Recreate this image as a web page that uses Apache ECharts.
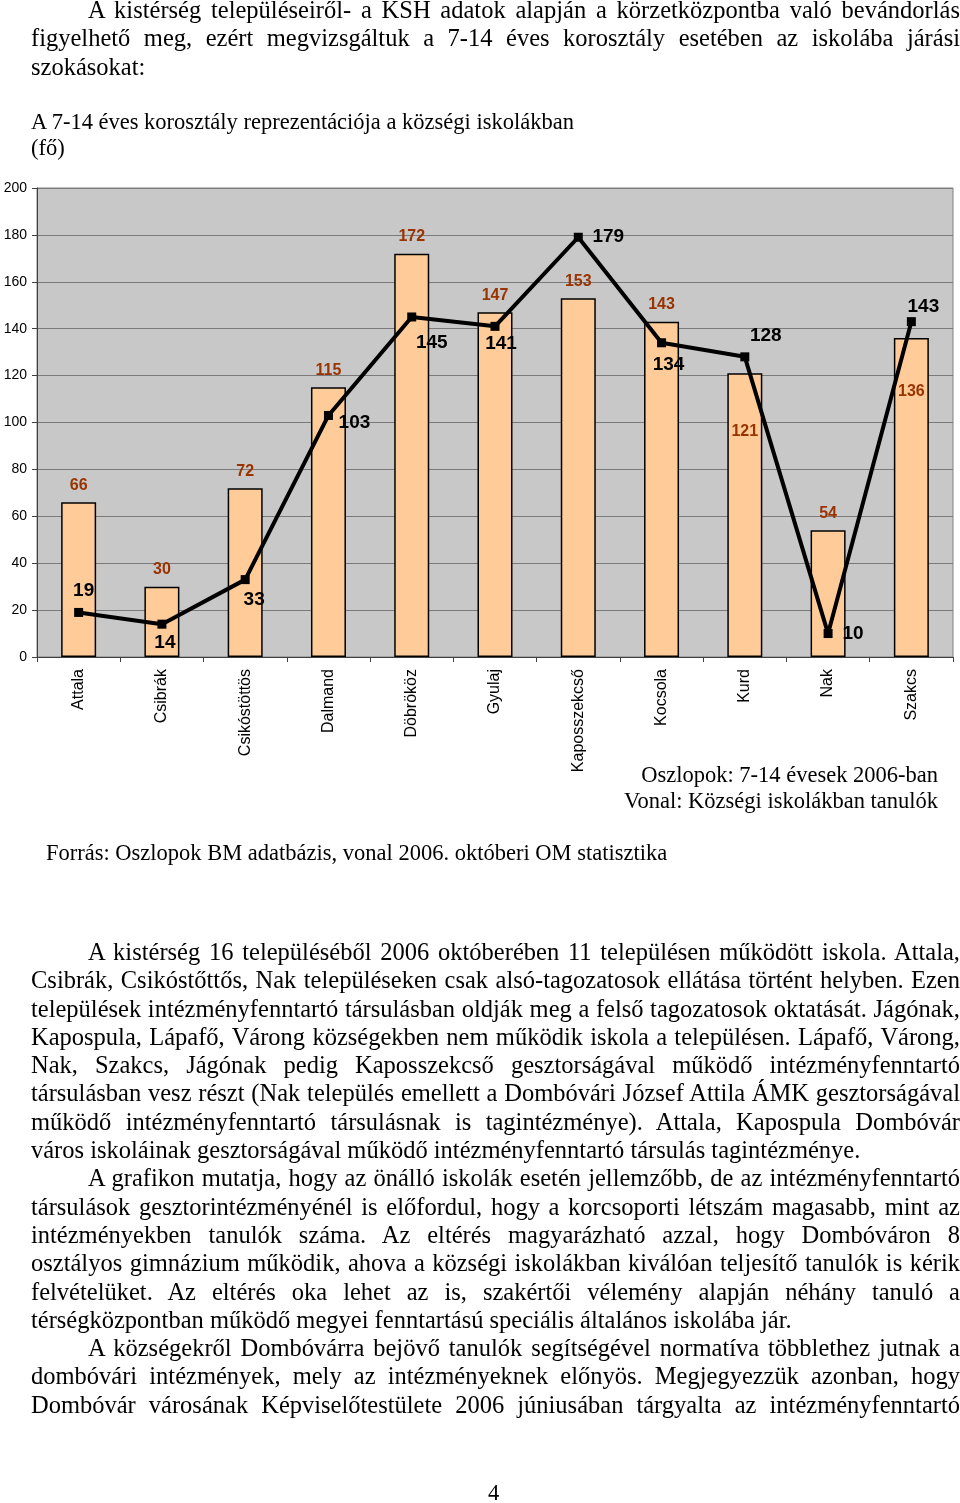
<!DOCTYPE html>
<html>
<head>
<meta charset="utf-8">
<script src="https://cdn.jsdelivr.net/npm/echarts@6/dist/echarts.min.js"></script>
<style>
  html, body { margin: 0; padding: 0; background: #fff; }
  body { width: 960px; height: 1503px; position: relative; overflow: hidden; }
  #chart { position: absolute; left: 0; top: 0; width: 960px; height: 1503px; }
  .txt { position: absolute; font-family: "Liberation Serif", "Times New Roman", serif; color: #000; white-space: nowrap; }
  .block { font-size: 24.5px; line-height: 28.3px; left: 31px; width: 929px; }
  .block div { text-align: justify; text-align-last: justify; }
  .block div.last { text-align: left; text-align-last: left; }
  .block div.ind { padding-left: 57px; }
  .small { font-size: 22.5px; line-height: 26px; }
</style>
</head>
<body>
<div id="chart"></div>

<div class="txt block" style="top:-4px;">
  <div class="ind">A kistérség településeiről- a KSH adatok alapján a körzetközpontba való bevándorlás</div>
  <div>figyelhető meg, ezért megvizsgáltuk a 7-14 éves korosztály esetében az iskolába járási</div>
  <div class="last">szokásokat:</div>
</div>

<div class="txt small" style="left:31px; top:109px;">A 7-14 éves korosztály reprezentációja a községi iskolákban<br>(fő)</div>

<div class="txt small" style="right:22px; top:762px; text-align:right;">Oszlopok: 7-14 évesek 2006-ban<br>Vonal: Községi iskolákban tanulók</div>

<div class="txt small" style="left:46px; top:840px;">Forrás: Oszlopok BM adatbázis, vonal 2006. októberi OM statisztika</div>

<div class="txt block" style="top:938px;">
  <div class="ind">A kistérség 16 településéből 2006 októberében 11 településen működött iskola. Attala,</div>
  <div>Csibrák, Csikóstőttős, Nak településeken csak alsó-tagozatosok ellátása történt helyben. Ezen</div>
  <div>települések intézményfenntartó társulásban oldják meg a felső tagozatosok oktatását. Jágónak,</div>
  <div>Kapospula, Lápafő, Várong községekben nem működik iskola a településen. Lápafő, Várong,</div>
  <div>Nak, Szakcs, Jágónak pedig Kaposszekcső gesztorságával működő intézményfenntartó</div>
  <div>társulásban vesz részt (Nak település emellett a Dombóvári József Attila ÁMK gesztorságával</div>
  <div>működő intézményfenntartó társulásnak is tagintézménye). Attala, Kapospula Dombóvár</div>
  <div class="last">város iskoláinak gesztorságával működő intézményfenntartó társulás tagintézménye.</div>
  <div class="ind">A grafikon mutatja, hogy az önálló iskolák esetén jellemzőbb, de az intézményfenntartó</div>
  <div>társulások gesztorintézményénél is előfordul, hogy a korcsoporti létszám magasabb, mint az</div>
  <div>intézményekben tanulók száma. Az eltérés magyarázható azzal, hogy Dombóváron 8</div>
  <div>osztályos gimnázium működik, ahova a községi iskolákban kiválóan teljesítő tanulók is kérik</div>
  <div>felvételüket. Az eltérés oka lehet az is, szakértői vélemény alapján néhány tanuló a</div>
  <div class="last">térségközpontban működő megyei fenntartású speciális általános iskolába jár.</div>
  <div class="ind">A községekről Dombóvárra bejövő tanulók segítségével normatíva többlethez jutnak a</div>
  <div>dombóvári intézmények, mely az intézményeknek előnyös. Megjegyezzük azonban, hogy</div>
  <div>Dombóvár városának Képviselőtestülete 2006 júniusában tárgyalta az intézményfenntartó</div>
</div>

<div class="txt small" style="left:488px; top:1480px;">4</div>

<script>
// ---- data ----
const categories = ['Attala', 'Csibrák', 'Csikóstöttös', 'Dalmand', 'Döbrököz', 'Gyulaj', 'Kaposszekcső', 'Kocsola', 'Kurd', 'Nak', 'Szakcs'];
const barValues = [66, 30, 72, 115, 172, 147, 153, 143, 121, 54, 136];   // Oszlopok: 7-14 évesek 2006-ban
const lineValues = [19, 14, 33, 103, 145, 141, 179, 134, 128, 10, 143];  // Vonal: Községi iskolákban tanulók
const yTicks = { min: 0, max: 200, interval: 20 };

// ---- label placement (styling only) ----
const lineLabelOffsets = [[5,-22],[3,19],[9,20],[26,7],[20,26],[6,17],[30,0],[7,22],[21,-21],[25,0],[12,-15]];
const barLabelInsideOffset = { 8: 50, 10: 46 };

const chart = echarts.init(document.getElementById('chart'), null, { renderer: 'canvas' });

const barData = barValues.map((v, i) => {
  if (barLabelInsideOffset[i] !== undefined) {
    return { value: v, label: { position: 'insideTop', distance: 0, offset: [0, barLabelInsideOffset[i]] } };
  }
  return v;
});
const lineData = lineValues.map((v, i) => ({ value: v, label: { offset: lineLabelOffsets[i] } }));

chart.setOption({
  animation: false,
  backgroundColor: 'transparent',
  grid: {
    left: 37, right: 7, top: 188, height: 469,
    show: true, backgroundColor: '#c8c8c8', borderColor: '#808080', borderWidth: 1
  },
  xAxis: {
    type: 'category',
    data: categories,
    axisLine: { show: true, lineStyle: { color: '#404040', width: 1 } },
    axisTick: { show: true, length: 5, lineStyle: { color: '#404040' }, alignWithLabel: false },
    axisLabel: {
      interval: 0, rotate: 90, margin: 12,
      fontFamily: 'Liberation Sans', fontSize: 16, color: '#000'
    },
    splitLine: { show: false }
  },
  yAxis: {
    type: 'value',
    min: yTicks.min, max: yTicks.max, interval: yTicks.interval,
    axisLine: { show: true, lineStyle: { color: '#404040', width: 1 } },
    axisTick: { show: true, length: 5, lineStyle: { color: '#404040' } },
    axisLabel: { margin: 10, fontFamily: 'Liberation Sans', fontSize: 14, color: '#000' },
    splitLine: { show: true, lineStyle: { color: '#7a7a7a', width: 1 } }
  },
  series: [
    {
      name: 'Oszlopok: 7-14 évesek 2006-ban',
      type: 'bar',
      data: barData,
      barWidth: 35,
      itemStyle: { color: '#ffcc99', borderColor: '#000', borderWidth: 1.5 },
      label: {
        show: true, position: 'top', distance: 9,
        color: '#993300', fontFamily: 'Liberation Sans', fontWeight: 'bold', fontSize: 16
      },
      z: 2
    },
    {
      name: 'Vonal: Községi iskolákban tanulók',
      type: 'line',
      data: lineData,
      symbol: 'rect', symbolSize: 9,
      lineStyle: { color: '#000', width: 4 },
      itemStyle: { color: '#000' },
      label: {
        show: true, position: 'inside',
        color: '#000', fontFamily: 'Liberation Sans', fontWeight: 'bold', fontSize: 19
      },
      z: 3
    }
  ]
});
</script>
</body>
</html>
